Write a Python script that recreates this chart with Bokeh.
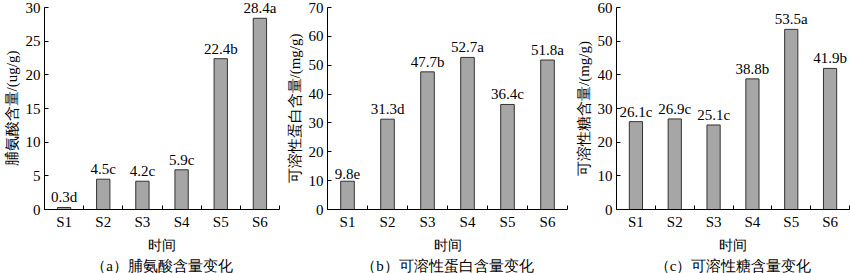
from bokeh.plotting import figure
from bokeh.models import ColumnDataSource, FixedTicker, SingleIntervalTicker, Title, Range1d
from bokeh.layouts import row
from bokeh.core.properties import value
from bokeh.embed import file_html
from bokeh.resources import INLINE

categories = ["S1", "S2", "S3", "S4", "S5", "S6"]
proline = [0.3, 4.5, 4.2, 5.9, 22.4, 28.4]
proline_sig = ["d", "c", "c", "c", "b", "a"]
protein = [9.8, 31.3, 47.7, 52.7, 36.4, 51.8]
protein_sig = ["e", "d", "b", "a", "c", "a"]
sugar = [26.1, 26.9, 25.1, 38.8, 53.5, 41.9]
sugar_sig = ["c", "c", "c", "b", "a", "b"]
y_labels = ["脯氨酸含量/(ug/g)", "可溶性蛋白含量/(mg/g)", "可溶性糖含量/(mg/g)"]
captions = ["（a）脯氨酸含量变化", "（b）可溶性蛋白含量变化", "（c）可溶性糖含量变化"]
x_label = "时间"
y_max = [30, 70, 60]
y_step = [5, 10, 10]

FONT = "Liberation Serif"


def panel(vals, sig, ylab, cap, ymax, ystep, width, bl, br, cap_off):
    xs = [i + 0.5 for i in range(len(categories))]
    src = ColumnDataSource(dict(x=xs, v=vals,
                                lab=[f"{v}{s}" for v, s in zip(vals, sig)]))
    p = figure(width=width, height=273, x_range=Range1d(0, len(categories)),
               y_range=Range1d(0, ymax), output_backend="svg",
               toolbar_location=None, min_border_left=bl, min_border_right=br,
               min_border_top=7, min_border_bottom=63)
    p.outline_line_color = None
    p.xgrid.grid_line_color = None
    p.ygrid.grid_line_color = None
    p.background_fill_color = "white"
    p.border_fill_color = "white"
    p.vbar(x="x", top="v", width=0.34, source=src, fill_color="#a6a6a6",
           line_color="#333333", line_width=1)
    t = p.text(x="x", y="v", text="lab", source=src, text_align="center",
               text_baseline="bottom", y_offset=-2, text_font=value(FONT),
               text_font_size="15px", text_color="black")
    t.level = "overlay"

    xa = p.xaxis[0]
    xa.ticker = FixedTicker(ticks=xs, minor_ticks=list(range(len(categories) + 1)))
    xa.major_label_overrides = {x: c for x, c in zip(xs, categories)}
    xa.major_tick_in = 0
    xa.major_tick_out = 0
    xa.minor_tick_in = 4
    xa.minor_tick_out = 0
    xa.major_label_standoff = 4
    xa.axis_label = x_label
    xa.axis_label_standoff = 5
    xa.axis_label_text_font = FONT
    xa.axis_label_text_font_style = "normal"
    xa.axis_label_text_font_size = "14px"
    xa.major_label_text_font = FONT
    xa.major_label_text_font_size = "15px"

    ya = p.yaxis[0]
    ya.ticker = SingleIntervalTicker(interval=ystep, num_minor_ticks=0)
    ya.major_tick_in = 4
    ya.major_tick_out = 0
    ya.minor_tick_in = 0
    ya.minor_tick_out = 0
    ya.major_label_standoff = 4
    ya.axis_label = ylab
    ya.axis_label_standoff = 3
    ya.axis_label_text_font = FONT
    ya.axis_label_text_font_style = "normal"
    ya.axis_label_text_font_size = "15px"
    ya.major_label_text_font = FONT
    ya.major_label_text_font_size = "15px"

    for ax in (xa, ya):
        ax.axis_line_color = "black"
        ax.major_tick_line_color = "black"
        ax.minor_tick_line_color = "black"
        ax.major_label_text_color = "black"
        ax.axis_label_text_color = "black"

    p.add_layout(Title(text=cap, align="center", offset=cap_off, text_font=FONT,
                       text_font_size="15px", text_font_style="normal",
                       text_color="black", standoff=0), "below")
    return p


pa = panel(proline, proline_sig, y_labels[0], captions[0], y_max[0], y_step[0], 282, 37, 3, -23)
pb = panel(protein, protein_sig, y_labels[1], captions[1], y_max[1], y_step[1], 290, 45, 5, -18)
pc = panel(sugar, sugar_sig, y_labels[2], captions[2], y_max[2], y_step[2], 278, 39, 1, -11)

layout = row(pa, pb, pc)
open("out.html", "w").write(file_html(layout, INLINE))
